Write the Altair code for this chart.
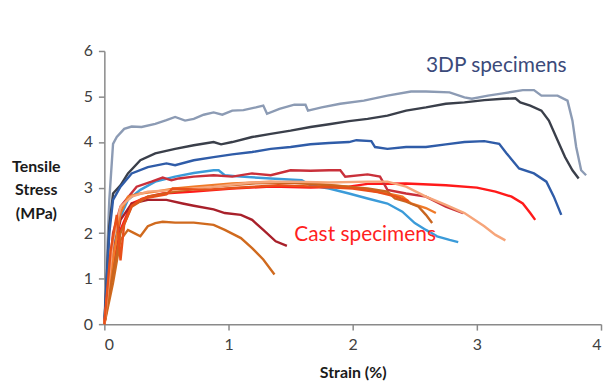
import altair as alt
import pandas as pd

# ---- data (strain %, stress MPa) ----
a_x = [0, 0.04, 0.07, 0.10, 0.16, 0.22, 0.30, 0.41, 0.50, 0.57, 0.65, 0.72, 0.80, 0.88, 0.95, 1.03, 1.12, 1.22, 1.28, 1.31, 1.41, 1.53, 1.62, 1.64, 1.75, 1.90, 2.09, 2.28, 2.47, 2.59, 2.78, 2.90, 2.96, 3.09, 3.21, 3.37, 3.46, 3.52, 3.65, 3.73, 3.77, 3.80, 3.84, 3.88]
a_y = [0, 2.73, 3.96, 4.11, 4.29, 4.34, 4.33, 4.40, 4.48, 4.55, 4.47, 4.51, 4.60, 4.65, 4.60, 4.69, 4.70, 4.76, 4.80, 4.62, 4.73, 4.82, 4.82, 4.69, 4.76, 4.84, 4.91, 5.02, 5.11, 5.11, 5.09, 4.98, 4.95, 5.02, 5.07, 5.14, 5.14, 5.02, 5.02, 4.91, 4.47, 3.89, 3.38, 3.27]

b_x = [0, 0.04, 0.07, 0.13, 0.19, 0.29, 0.41, 0.57, 0.72, 0.88, 0.94, 1.03, 1.19, 1.34, 1.50, 1.66, 1.81, 1.97, 2.12, 2.28, 2.43, 2.59, 2.75, 2.90, 3.06, 3.21, 3.31, 3.35, 3.43, 3.52, 3.58, 3.65, 3.71, 3.77, 3.82]
b_y = [0, 2.15, 2.87, 3.05, 3.31, 3.60, 3.75, 3.85, 3.93, 4.00, 3.95, 4.00, 4.11, 4.18, 4.25, 4.33, 4.39, 4.46, 4.51, 4.58, 4.69, 4.76, 4.84, 4.87, 4.92, 4.95, 4.96, 4.87, 4.80, 4.69, 4.47, 4.04, 3.67, 3.38, 3.20]

c_x = [0, 0.04, 0.07, 0.13, 0.22, 0.35, 0.50, 0.57, 0.72, 0.88, 1.03, 1.19, 1.34, 1.50, 1.66, 1.81, 1.97, 2.03, 2.15, 2.18, 2.28, 2.43, 2.59, 2.75, 2.90, 3.06, 3.18, 3.24, 3.34, 3.46, 3.56, 3.62, 3.68]
c_y = [0, 2.00, 2.73, 3.02, 3.31, 3.45, 3.53, 3.49, 3.60, 3.67, 3.73, 3.78, 3.85, 3.89, 3.95, 3.98, 4.00, 4.04, 4.02, 3.89, 3.85, 3.89, 3.89, 3.95, 4.00, 4.02, 3.96, 3.75, 3.42, 3.31, 3.13, 2.80, 2.40]

d_x = [0, 0.07, 0.13, 0.19, 0.29, 0.41, 0.57, 0.72, 0.88, 0.92, 0.97, 1.10, 1.34, 1.59, 1.66, 1.81, 1.97, 2.12, 2.28, 2.40, 2.50, 2.59, 2.68, 2.78, 2.85]
d_y = [0, 1.64, 2.36, 2.73, 2.95, 3.13, 3.24, 3.32, 3.38, 3.38, 3.27, 3.24, 3.20, 3.16, 3.05, 2.98, 2.87, 2.76, 2.65, 2.47, 2.22, 2.07, 1.93, 1.85, 1.80]

e_x = [0, 0.07, 0.13, 0.22, 0.35, 0.47, 0.72, 1.03, 1.34, 1.66, 1.97, 2.12, 2.43, 2.75, 3.00, 3.15, 3.28, 3.37, 3.43, 3.47]
e_y = [0, 1.27, 2.07, 2.65, 2.80, 2.87, 2.91, 2.98, 3.02, 3.00, 3.02, 3.08, 3.09, 3.05, 3.00, 2.91, 2.80, 2.65, 2.44, 2.29]

f_x = [0, 0.07, 0.13, 0.26, 0.38, 0.47, 0.54, 0.60, 0.72, 0.88, 1.03, 1.19, 1.34, 1.50, 1.66, 1.81, 1.90, 1.94, 2.12, 2.22, 2.28, 2.43, 2.59, 2.75, 2.89]
f_y = [0, 2.00, 2.58, 3.02, 3.13, 3.22, 3.16, 3.20, 3.24, 3.27, 3.24, 3.31, 3.27, 3.38, 3.37, 3.38, 3.38, 3.24, 3.29, 3.24, 2.95, 2.87, 2.80, 2.58, 2.44]

g_x = [0, 0.07, 0.13, 0.22, 0.35, 0.50, 0.63, 0.72, 0.88, 0.97, 1.10, 1.19, 1.28, 1.38, 1.47]
g_y = [0, 1.56, 2.29, 2.65, 2.73, 2.73, 2.65, 2.60, 2.52, 2.44, 2.40, 2.29, 2.07, 1.82, 1.72]

h_x = [0, 0.07, 0.13, 0.19, 0.24, 0.29, 0.35, 0.41, 0.47, 0.57, 0.72, 0.88, 0.97, 1.10, 1.19, 1.28, 1.37]
h_y = [0, 0.91, 1.85, 2.07, 2.00, 1.93, 2.15, 2.22, 2.25, 2.23, 2.23, 2.18, 2.07, 1.89, 1.67, 1.42, 1.09]

i_x = [0, 0.07, 0.13, 0.19, 0.29, 0.41, 0.57, 0.72, 1.03, 1.34, 1.66, 1.97, 2.28, 2.40, 2.47, 2.59, 2.67]
i_y = [0, 1.42, 2.44, 2.80, 2.87, 2.91, 2.98, 3.02, 3.09, 3.13, 3.09, 3.02, 2.87, 2.80, 2.65, 2.55, 2.44]

j_x = [0, 0.07, 0.13, 0.22, 0.35, 0.57, 0.88, 1.19, 1.50, 1.81, 2.12, 2.28, 2.34, 2.43, 2.53, 2.59, 2.64]
j_y = [0, 1.13, 2.00, 2.58, 2.80, 2.91, 3.02, 3.09, 3.11, 3.05, 2.98, 2.91, 2.76, 2.69, 2.58, 2.40, 2.22]

k_x = [0, 0.07, 0.13, 0.22, 0.35, 0.57, 0.88, 1.19, 1.50, 1.81, 2.12, 2.28, 2.43, 2.59, 2.75, 2.90, 3.06, 3.15, 3.23]
k_y = [0, 1.85, 2.58, 2.80, 2.91, 2.95, 3.02, 3.11, 3.13, 3.11, 3.13, 3.13, 3.02, 2.80, 2.62, 2.44, 2.15, 1.96, 1.84]

l_x = [0, 0.05, 0.10, 0.13, 0.16, 0.22, 0.30, 0.50, 0.55, 0.80, 1.10, 1.40, 1.70, 2.00, 2.20, 2.35, 2.45]
l_y = [0, 1.60, 2.40, 1.40, 2.20, 2.60, 2.75, 2.85, 2.98, 2.95, 3.00, 3.05, 3.02, 2.98, 2.90, 2.80, 2.70]

series_names = ["A", "B", "C", "D", "E", "F", "G", "H", "I", "J", "K", "L"]
series_colors = ["#8c9bb4", "#3a3f4a", "#2f5ca8", "#3b9bd9", "#ff1a1a", "#c9303a",
                 "#a8202a", "#d06a1e", "#f07a28", "#c9651f", "#f6a57a", "#e8501a"]
series_x = [a_x, b_x, c_x, d_x, e_x, f_x, g_x, h_x, i_x, j_x, k_x, l_x]
series_y = [a_y, b_y, c_y, d_y, e_y, f_y, g_y, h_y, i_y, j_y, k_y, l_y]

label_text = ["3DP specimens", "Cast specimens"]
label_x = [2.59, 1.53]
label_y = [5.68, 1.96]
label_color = ["#3b4a7a", "#ff1f1f"]

rows = []
for name, xs, ys in zip(series_names, series_x, series_y):
    for i, (x, y) in enumerate(zip(xs, ys)):
        rows.append({"series": name, "strain": x, "stress": y, "idx": i})
df = pd.DataFrame(rows)

labels = pd.DataFrame({"text": label_text, "x": label_x, "y": label_y, "c": label_color})

FONT = "Lato"

xscale = alt.Scale(domain=[0, 4], nice=False, zero=True)
yscale = alt.Scale(domain=[0, 6], nice=False)

lines = alt.Chart(df).mark_line(strokeWidth=2.4, interpolate="linear").encode(
    x=alt.X("strain:Q", scale=xscale,
            axis=alt.Axis(title="Strain (%)", values=[0, 1, 2, 3, 4], format="d",
                          grid=False, tickSize=6, labelPadding=7, titlePadding=12)),
    y=alt.Y("stress:Q", scale=yscale,
            axis=alt.Axis(title=["Tensile", "Stress", "(MPa)"], values=[0, 1, 2, 3, 4, 5, 6],
                          format="d", grid=False, tickSize=6, labelPadding=6,
                          titleAngle=0, titleAlign="center", titleBaseline="middle",
                          titleX=-69, titleY=116, titleLineHeight=24)),
    color=alt.Color("series:N", scale=alt.Scale(domain=series_names, range=series_colors), legend=None),
    order="idx:Q",
)

texts = alt.Chart(labels).mark_text(align="left", baseline="middle", fontSize=21, font=FONT).encode(
    x="x:Q", y="y:Q", text="text:N",
    color=alt.Color("c:N", scale=None),
)

chart = (lines + texts).properties(
    width=500, height=275,
    background="white",
    autosize=alt.AutoSizeParams(type="none"),
    padding={"left": 97, "top": 42, "right": 2, "bottom": 60},
).configure_view(stroke=None).configure_axis(
    domainColor="#8a8a8a", tickColor="#8a8a8a", domainWidth=1.5, tickWidth=1.5,
    labelFont=FONT, labelFontSize=16, labelColor="#404040",
    titleFont=FONT, titleFontSize=16, titleFontWeight="bold", titleColor="#1a1a1a",
)

chart.save("out.html", embed_options={"renderer": "svg", "actions": False})
